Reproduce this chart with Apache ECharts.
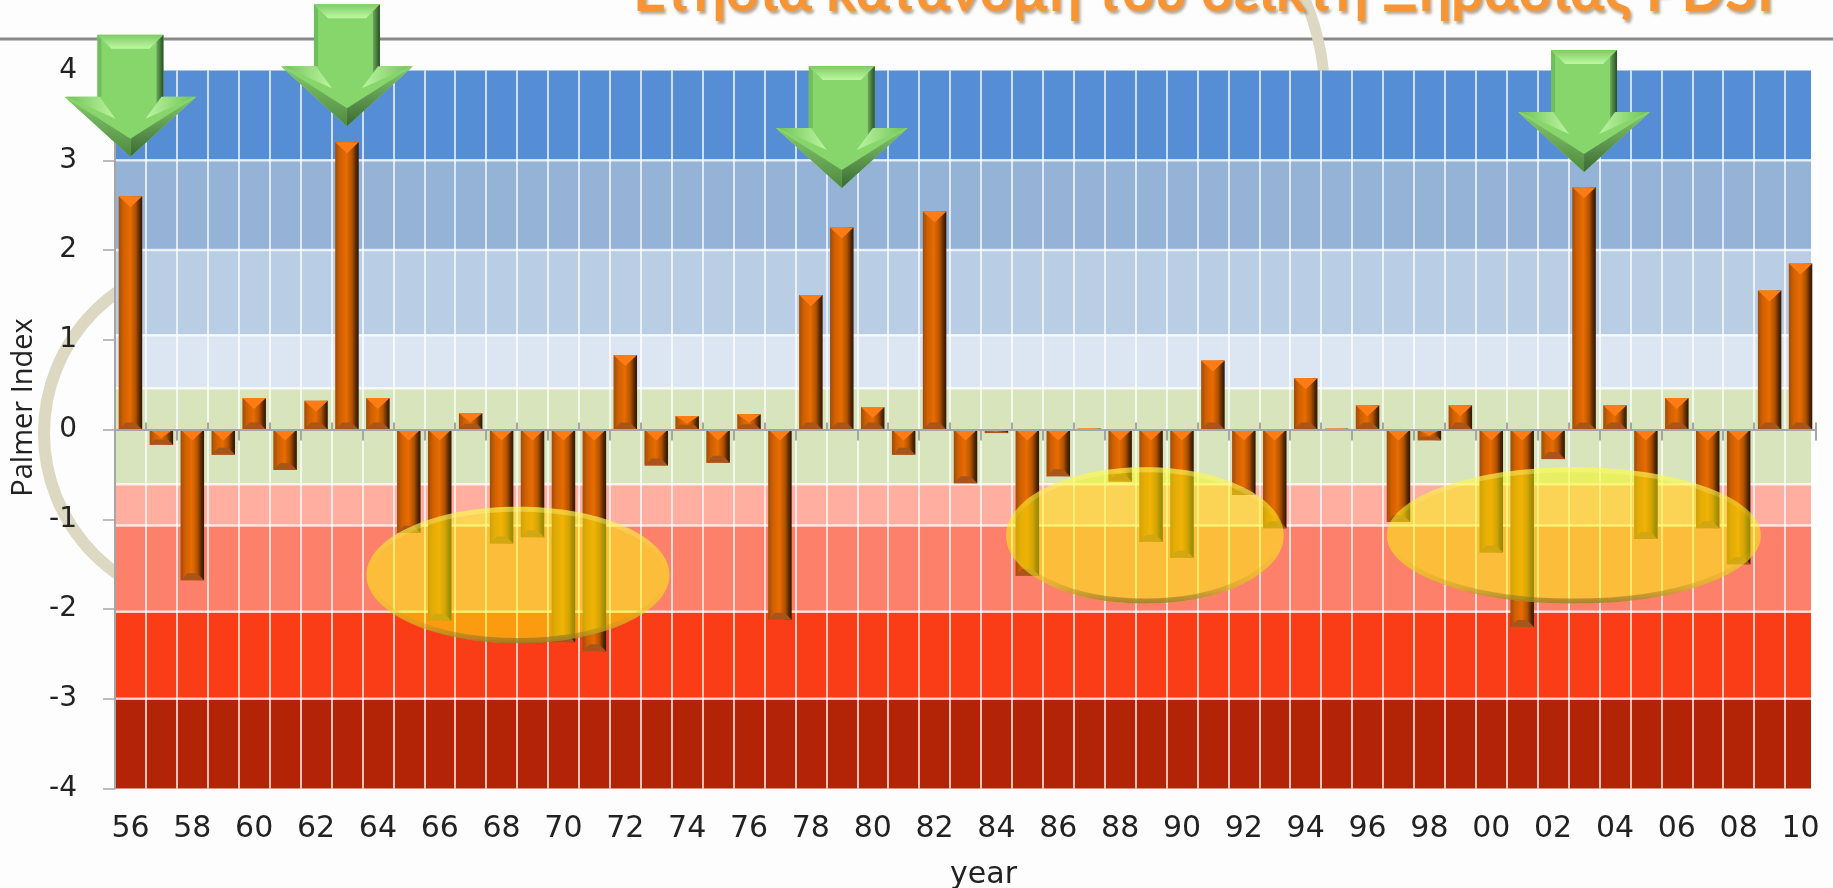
<!DOCTYPE html>
<html><head><meta charset="utf-8">
<style>html,body{margin:0;padding:0;background:#fdfdfd}#c{width:1833px;height:888px}</style>
<script src="https://cdn.jsdelivr.net/npm/echarts@6/dist/echarts.min.js"></script>
</head><body><div id="c"></div>
<script>
const years = ['56','57','58','59','60','61','62','63','64','65','66','67','68','69','70','71','72','73','74','75','76','77','78','79','80','81','82','83','84','85','86','87','88','89','90','91','92','93','94','95','96','97','98','99','00','01','02','03','04','05','06','07','08','09','10'];
const palmer = [2.6,-0.17,-1.68,-0.28,0.35,-0.45,0.32,3.2,0.35,-1.15,-2.13,0.18,-1.27,-1.2,-2.37,-2.47,0.83,-0.4,0.15,-0.37,0.17,-2.12,1.5,2.25,0.25,-0.28,2.43,-0.6,-0.04,-1.63,-0.52,0.01,-0.58,-1.25,-1.43,0.77,-0.73,-1.1,0.57,0.01,0.27,-1.03,-0.12,0.27,-1.37,-2.2,-0.33,2.7,0.27,-1.22,0.35,-1.1,-1.5,1.55,1.85];
const bandEdges = [4,3,2,1.05,0.46,-0.61,-1.07,-2.03,-3,-4];
const bandColors = ['#558ed5','#95b3d7','#b9cde5','#dce6f2','#d8e4bc','#ffaea0','#fc806a','#fa3c17','#b32406'];
// highlighted drought periods: centre index, centre value, half-width, half-height
const droughtEllipses = [[12.53,-1.62,4.9,0.76],[32.8,-1.18,4.49,0.76],[46.67,-1.18,6.05,0.76]];
// wet-year arrows: year index, tip value
const wetArrows = [[0,3.04],[7,3.38],[23,2.69],[47,2.87]];

const chart = echarts.init(document.getElementById('c'));
const G = {left:115, top:70.5, width:1701, height:718, outerBoundsMode:'none', containLabel:false};
const poly = (pts, fill) => ({type:'polygon', shape:{points:pts}, style:{fill}});

function renderBand(params, api){
  const a = api.coord([-0.5, api.value(0)]), b = api.coord([54.5, api.value(1)]);
  return {type:'rect', shape:{x:a[0]+1, y:a[1], width:b[0]-a[0]-6, height:b[1]-a[1]},
    style:{fill:bandColors[params.dataIndex]}};
}
function renderBandEdge(params, api){
  const a = api.coord([-0.5, api.value(0)]), b = api.coord([54.5, api.value(0)]);
  return {type:'rect', shape:{x:a[0]+1, y:a[1]-1.2, width:b[0]-a[0]-6, height:2.4},
    style:{fill:'rgba(255,255,255,0.75)'}};
}
function renderBevel(params, api){
  const i = api.value(0), v = api.value(1);
  const p0 = api.coord([i,0]), p1 = api.coord([i,v]);
  const x = p0[0], h = 11.75, top = Math.min(p0[1],p1[1]), bot = Math.max(p0[1],p1[1]);
  const d = Math.min(11,(bot-top)*0.55), e = Math.min(7,(bot-top)*0.35);
  return {type:'group', children:[
    poly([[x-h,bot],[x+h,bot],[x+h-e,bot-e],[x-h+e,bot-e]],'#a8541a'),
    poly([[x-h,top],[x+h,top],[x,top+d]],'#ff7c14')
  ]};
}
function renderEllipse(params, api){
  const c = api.coord([api.value(0),api.value(1)]);
  const s = api.size([api.value(2),api.value(3)]);
  const rx = s[0], ry = s[1];
  return {type:'group', children:[
    {type:'ellipse', shape:{cx:c[0],cy:c[1],rx:rx,ry:ry}, style:{fill:'rgba(250,250,10,0.5)'}},
    {type:'ellipse', shape:{cx:c[0],cy:c[1],rx:rx-2.5,ry:ry-2.5}, style:{fill:'none',lineWidth:5,
      stroke:{type:'linear',x:0,y:0,x2:0,y2:1,colorStops:[
        {offset:0,color:'rgba(255,255,120,0.4)'},{offset:0.12,color:'rgba(255,240,170,0.3)'},
        {offset:0.5,color:'rgba(255,220,60,0.0)'},{offset:0.85,color:'rgba(190,150,40,0.35)'},
        {offset:1,color:'rgba(120,100,40,0.65)'}]}}}
  ]};
}
function renderArrow(params, api){
  const t = api.coord([api.value(0),api.value(1)]);
  const x = t[0], y = t[1];
  const H=122, sh=60, S=33, b=14;
  const top=y-H, ys=y-sh;
  const grad=(c0,c1,dir)=>({type:'linear',x:0,y:0,x2:dir?1:0,y2:dir?0:1,colorStops:[{offset:0,color:c0},{offset:1,color:c1}]});
  return {type:'group', children:[
    poly([[x-S,top],[x+S,top],[x+S,ys],[x+66,ys],[x,y],[x-66,ys],[x-S,ys]],'#86d66c'),
    poly([[x-S,top],[x+S,top],[x+S-b,top+b],[x-S+b,top+b]],grad('#7ecb66','#bdf8a0')),
    poly([[x-S,top],[x-S+4,top+5],[x-S+4,ys],[x-S,ys]],'#6fbd5c'),
    poly([[x+S,top],[x+S,ys+3],[x+S-7,ys+9],[x+S-7,top+7]],grad('#6da95c','#264f22',true)),
    poly([[x-64,ys],[x-S+2,ys],[x-S+18,ys+22]],grad('#6fc35a','#bdf5a0',true)),
    poly([[x+64,ys],[x+S-2,ys],[x+S-18,ys+22]],grad('#bdf5a0','#6fc35a',true)),
    poly([[x-66,ys],[x,y],[x,y-18],[x-44,ys+14]],grad('#86c96e','#4f8a40')),
    poly([[x+66,ys],[x,y],[x,y-18],[x+44,ys+14]],grad('#86c96e','#3a6a34'))
  ]};
}

const option = {
  animation:false,
  backgroundColor:'#fdfdfd',
  title:{text:'Ετήσια κατανομή του δείκτη Ξηρασίας PDSI', left:628, top:-42,
    textStyle:{color:'#f79433',fontFamily:'Lato',fontWeight:'bold',fontSize:57.5,
      textShadowColor:'rgba(90,60,20,0.45)',textShadowBlur:3,textShadowOffsetX:2,textShadowOffsetY:3}},
  graphic:{elements:[
    {type:'rect', z:0, shape:{x:0,y:37.5,width:1833,height:3}, style:{fill:'#8a8a8a'}},
    {type:'circle', z:0, shape:{cx:216,cy:433,r:172}, style:{fill:'none',stroke:'#dcd8c2',lineWidth:12}},
    {type:'arc', z:0, shape:{cx:1064,cy:100,r:261,startAngle:-Math.PI/3,endAngle:0}, style:{fill:'none',stroke:'#dcd8c2',lineWidth:11}}
  ]},
  grid:G,
  xAxis:[
    {type:'category',data:years,position:'bottom',z:2,
      axisLine:{show:false,onZero:false},axisTick:{show:false},
      axisLabel:{interval:1,margin:26,color:'#222',fontFamily:'DejaVu Sans',fontSize:30},
      splitLine:{show:true,interval:0,lineStyle:{color:'rgba(255,255,255,0.72)',width:2}},
      name:'year',nameLocation:'middle',nameGap:72,
      nameTextStyle:{color:'#222',fontFamily:'DejaVu Sans',fontSize:30,padding:[0,0,0,36]}},
    {type:'category',data:years,position:'bottom',z:4,
      axisLine:{show:true,onZero:true,lineStyle:{color:'#a6a6a6',width:2}},
      axisTick:{show:true,inside:true,length:7,interval:(i)=>i%2===1&&i<54,lineStyle:{color:'#a6a6a6',width:2}},
      axisLabel:{show:false},splitLine:{show:false}},
    {type:'category',data:years,position:'bottom',z:4,offset:-G.height/2,
      axisLine:{show:false,onZero:false},
      axisTick:{show:true,length:11,interval:(i)=>i%2===0&&i>0&&i<54,lineStyle:{color:'#a6a6a6',width:2}},
      axisLabel:{show:false},splitLine:{show:false}},
    {type:'value',min:-0.5,max:54.5,show:false,splitLine:{show:false}}
  ],
  yAxis:{type:'value',min:-4,max:4,interval:1,z:4,
    axisLine:{show:true,onZero:false,lineStyle:{color:'#a6a6a6',width:2}},
    axisTick:{show:true,length:12,lineStyle:{color:'#a6a6a6',width:1.5}},
    axisLabel:{margin:38,color:'#222',fontFamily:'DejaVu Sans',fontSize:28},
    splitLine:{show:false},
    name:'Palmer Index',nameLocation:'middle',nameGap:72,
    nameTextStyle:{color:'#222',fontFamily:'Open Sans',fontSize:29,padding:[0,0,0,44]}},
  series:[
    {type:'custom',xAxisIndex:3,z:1,silent:true,renderItem:renderBand,
      encode:{y:[0,1]},data:bandColors.map((c,i)=>[bandEdges[i],bandEdges[i+1]])},
    {type:'custom',xAxisIndex:3,z:1,silent:true,renderItem:renderBandEdge,
      encode:{y:0},data:bandEdges.slice(1,-1).map(v=>[v])},
    {type:'bar',xAxisIndex:0,z:3,barWidth:23.5,data:palmer,
      itemStyle:{color:{type:'linear',x:0,y:0,x2:1,y2:0,colorStops:[
        {offset:0,color:'#a04c0a'},{offset:0.2,color:'#cf6002'},{offset:0.48,color:'#e86c00'},
        {offset:0.72,color:'#b05200'},{offset:0.88,color:'#5a2a04'},{offset:1,color:'#2e1604'}]}}},
    {type:'custom',xAxisIndex:3,z:4,silent:true,renderItem:renderBevel,encode:{x:0,y:1},
      data:palmer.map((v,i)=>[i,v])},
    {type:'custom',xAxisIndex:3,z:5,silent:true,renderItem:renderEllipse,encode:{x:0,y:1},data:droughtEllipses},
    {type:'custom',xAxisIndex:3,z:6,silent:true,renderItem:renderArrow,encode:{x:0,y:1},data:wetArrows}
  ]
};
chart.setOption(option);
</script></body></html>
